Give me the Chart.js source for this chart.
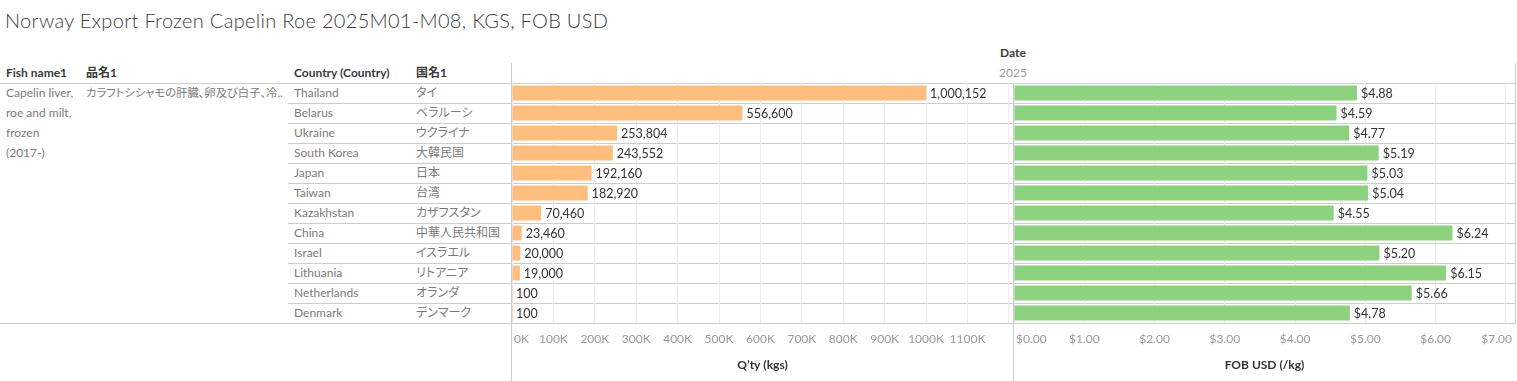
<!DOCTYPE html>
<html>
<head>
<meta charset="utf-8">
<script src="https://cdn.jsdelivr.net/npm/chart.js@4.4.1/dist/chart.umd.min.js"></script>
<style>
  html, body { margin: 0; padding: 0; background: #fff; overflow: hidden; width: 1517px; height: 381px; }
  body { position: relative; font-family: Lato, "Noto Sans CJK JP", sans-serif; font-feature-settings: "palt"; }
  .abs { position: absolute; white-space: nowrap; }
  .hl { position: absolute; height: 1px; background: #cccccc; }
  .vl { position: absolute; width: 1px; background: #cccccc; }
  .title { left: 5px; top: 6px; font-size: 20px; font-weight: 300; letter-spacing: 0.3px; line-height: 28px; color: #3c3c3c; }
  .hdr { font-size: 12px; font-weight: bold; color: #3a3a3a; height: 20px; line-height: 20px; }
  .cell { font-size: 12px; color: #7b7b7b; height: 20px; line-height: 20px; }
  .cellja { font-size: 11.3px; color: #7b7b7b; height: 20px; line-height: 20px; }
  .year { font-size: 12px; color: #a0a0a0; height: 20px; line-height: 20px; }
  canvas { position: absolute; }
</style>
</head>
<body>
<div id="root"></div>
<canvas id="qtyChart" width="501" height="298" style="left:512px; top:83px;"></canvas>
<canvas id="fobChart" width="501" height="298" style="left:1014px; top:83px;"></canvas>
<script>
// ---- data ----
const chartTitle = 'Norway Export Frozen Capelin Roe 2025M01-M08, KGS, FOB USD';
const fishNameEn = ['Capelin liver,', 'roe and milt,', 'frozen', '(2017-)'];
const fishNameJa = 'カラフトシシャモの肝臓、卵及び白子、冷..';
const yearLabel = '2025';
const countries = ['Thailand', 'Belarus', 'Ukraine', 'South Korea', 'Japan', 'Taiwan', 'Kazakhstan', 'China', 'Israel', 'Lithuania', 'Netherlands', 'Denmark'];
const countriesJa = ['タイ', 'ベラルーシ', 'ウクライナ', '大韓民国', '日本', '台湾', 'カザフスタン', '中華人民共和国', 'イスラエル', 'リトアニア', 'オランダ', 'デンマーク'];
const qtyKgs = [1000152, 556600, 253804, 243552, 192160, 182920, 70460, 23460, 20000, 19000, 100, 100];
const fobUsdPerKg = [4.88, 4.59, 4.77, 5.19, 5.03, 5.04, 4.55, 6.24, 5.20, 6.15, 5.66, 4.78];
const qtyTicks = [0, 100000, 200000, 300000, 400000, 500000, 600000, 700000, 800000, 900000, 1000000, 1100000, 1200000];
const qtyTickLabelMax = 1100000;
const fobTicks = [0, 1, 2, 3, 4, 5, 6, 7];

// ---- static table / frame (HTML) ----
const root = document.getElementById('root');
function add(cls, text, style) {
  const d = document.createElement('div');
  d.className = 'abs ' + cls;
  if (text !== null) d.textContent = text;
  Object.assign(d.style, style);
  root.appendChild(d);
  return d;
}
add('title', chartTitle, {});
add('hdr', 'Date', { left: '1000px', top: '43px' });
add('year', yearLabel, { left: '999px', top: '63px' });
add('hdr', 'Fish name1', { left: '6px', top: '63px' });
add('hdr', '品名1', { left: '86px', top: '63px' });
add('hdr', 'Country (Country)', { left: '294px', top: '63px' });
add('hdr', '国名1', { left: '416px', top: '63px' });
fishNameEn.forEach((t, i) => add('cell', t, { left: '6px', top: (83 + 20 * i) + 'px' }));
add('cellja', fishNameJa, { left: '86px', top: '83px' });
countries.forEach((c, i) => {
  add('cell', c, { left: '294px', top: (83 + 20 * i) + 'px' });
  add('cell', countriesJa[i], { left: '416px', top: (83 + 20 * i) + 'px' });
});
// lines
function hline(x1, x2, y) { const d = document.createElement('div'); d.className = 'hl'; Object.assign(d.style, { left: x1 + 'px', width: (x2 - x1) + 'px', top: y + 'px' }); root.appendChild(d); }
function vline(x, y1, y2) { const d = document.createElement('div'); d.className = 'vl'; Object.assign(d.style, { left: x + 'px', top: y1 + 'px', height: (y2 - y1) + 'px' }); root.appendChild(d); }
hline(0, 1516, 83);
for (let i = 1; i < countries.length; i++) hline(288, 1516, 83 + 20 * i);
hline(0, 1516, 83 + 20 * countries.length);
vline(511, 63, 381);
vline(1013, 83, 381);
vline(1515, 63, 323);

// ---- charts ----
const FONT = 'Lato, "Noto Sans CJK JP", sans-serif';

function makePlugin(fmtValue, fmtTick, tickFilter) {
  return {
    id: 'labels',
    afterDatasetsDraw(chart) {
      const ctx = chart.ctx;
      const meta = chart.getDatasetMeta(0);
      const data = chart.data.datasets[0].data;
      ctx.save();
      ctx.font = '12.5px ' + FONT;
      ctx.fillStyle = '#333333';
      ctx.textBaseline = 'middle';
      ctx.textAlign = 'left';
      meta.data.forEach((bar, i) => {
        ctx.fillText(fmtValue(data[i]), bar.x + 4, bar.y + 0.5);
      });
      ctx.restore();
    },
    afterDraw(chart) {
      const ctx = chart.ctx;
      const sc = chart.scales.x;
      const a = chart.chartArea;
      ctx.save();
      ctx.font = '12px ' + FONT;
      ctx.fillStyle = '#999999';
      ctx.textBaseline = 'middle';
      ctx.textAlign = 'left';
      sc.ticks.forEach(t => {
        if (!tickFilter(t.value)) return;
        const s = fmtTick(t.value);
        const w = ctx.measureText(s).width;
        const px = sc.getPixelForValue(t.value);
        let x = px - w / 2;
        x = Math.max(a.left + 2, Math.min(x, a.right - w - 3));
        ctx.fillText(s, x, a.bottom + 16);
      });
      ctx.restore();
    }
  };
}

function makeChart(id, values, color, max, tickValues, title, plugin) {
  return new Chart(document.getElementById(id), {
    type: 'bar',
    data: {
      labels: countries,
      datasets: [{ data: values, backgroundColor: color, borderWidth: 0, barPercentage: 0.75, categoryPercentage: 1 }]
    },
    options: {
      indexAxis: 'y',
      responsive: false,
      maintainAspectRatio: false,
      animation: false,
      devicePixelRatio: 1,
      layout: { padding: 0 },
      plugins: { legend: { display: false }, tooltip: { enabled: false } },
      scales: {
        y: { type: 'category', display: false },
        x: {
          type: 'linear', min: 0, max: max,
          ticks: { display: false },
          afterBuildTicks(s) { s.ticks = tickValues.map(v => ({ value: v })); },
          grid: { color: '#ececec', drawTicks: false },
          border: { display: false },
          title: { display: true, text: title, color: '#333333', font: { family: FONT, size: 12, weight: 'bold' }, padding: { top: 0, bottom: 9 } },
          afterFit(s) { s.height = 58; }
        }
      }
    },
    plugins: [plugin]
  });
}

makeChart('qtyChart', qtyKgs, '#FFBE7D', 1210000, qtyTicks, 'Q’ty (kgs)',
  makePlugin(v => v.toLocaleString('en-US'), v => (v / 1000) + 'K', v => v <= qtyTickLabelMax));
makeChart('fobChart', fobUsdPerKg, '#8CD17D', 7.13, fobTicks, 'FOB USD (/kg)',
  makePlugin(v => '$' + v.toFixed(2), v => '$' + v.toFixed(2), v => true));
</script>
</body>
</html>
